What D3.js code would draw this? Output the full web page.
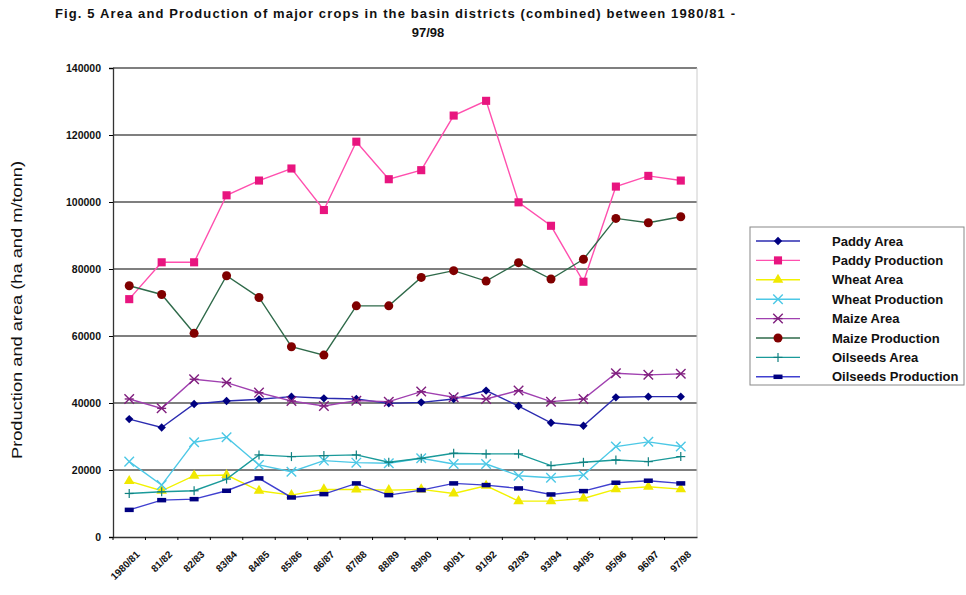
<!DOCTYPE html>
<html>
<head>
<meta charset="utf-8">
<script src="https://cdn.jsdelivr.net/npm/d3@7"></script>
<style>
  body { margin: 0; background: #fff; }
  svg { font-family: "Liberation Sans", Arial, sans-serif; }
</style>
</head>
<body>
<div id="chart"></div>
<script>
// categories (crop years)
var years = ["1980/81", "81/82", "82/83", "83/84", "84/85", "85/86", "86/87", "87/88", "88/89",
    "89/90", "90/91", "91/92", "92/93", "93/94", "94/95", "95/96", "96/97", "97/98"];

var paddyArea = [35200, 32700, 39700, 40600, 41100, 41900, 41400, 41200, 39900,
    40200, 41200, 43700, 39100, 34100, 33200, 41700, 41900, 41900];
var paddyProd = [71000, 82000, 82000, 102000, 106400, 110000, 97600, 118000, 106800,
    109500, 125800, 130200, 99900, 92900, 76200, 104600, 107800, 106400];
var wheatArea = [16700, 13800, 18300, 18500, 13800, 12500, 14200, 14200, 14000,
    14200, 13000, 15300, 10700, 10700, 11500, 14300, 15000, 14300];
var wheatProd = [22500, 15500, 28300, 29800, 21500, 19500, 22800, 22200, 22000,
    23500, 21800, 21800, 18300, 17700, 18500, 27000, 28400, 27000];
var maizeArea = [41200, 38400, 47100, 46100, 43100, 40600, 39100, 40700, 40400,
    43400, 41700, 41200, 43700, 40400, 41200, 48900, 48400, 48700];
var maizeProd = [75000, 72400, 60800, 78000, 71500, 56800, 54300, 69000, 69000,
    77500, 79500, 76400, 81900, 77000, 82900, 95100, 93800, 95600];
var oilArea = [13000, 13500, 13800, 17300, 24500, 24000, 24300, 24500, 22300,
    23500, 25000, 24800, 24800, 21300, 22300, 23000, 22500, 24000];
var oilProd = [8100, 11000, 11300, 13800, 17500, 11800, 12800, 16000, 12500,
    14000, 16000, 15500, 14500, 12700, 13700, 16200, 16800, 16000];

var yTicks = [0, 20000, 40000, 60000, 80000, 100000, 120000, 140000];

var series = [
    {name: "Paddy Area", values: paddyArea, line: "#2b2bb0", fill: "#000080", shape: "diamond"},
    {name: "Paddy Production", values: paddyProd, line: "#ff4fae", fill: "#e8157f", shape: "square"},
    {name: "Wheat Area", values: wheatArea, line: "#f2f200", fill: "#f0e800", shape: "triangle"},
    {name: "Wheat Production", values: wheatProd, line: "#4cc8e6", fill: "#4cc8e6", shape: "x"},
    {name: "Maize Area", values: maizeArea, line: "#a040b0", fill: "#80207f", shape: "star"},
    {name: "Maize Production", values: maizeProd, line: "#2f6a4a", fill: "#800000", shape: "circle"},
    {name: "Oilseeds Area", values: oilArea, line: "#1a9a9a", fill: "#108080", shape: "plus"},
    {name: "Oilseeds Production", values: oilProd, line: "#4040d0", fill: "#000080", shape: "dash"}
];

var width = 966, height = 595;
var margin = {top: 68, right: 269, bottom: 58, left: 113};

var svg = d3.select("#chart").append("svg")
    .attr("width", width)
    .attr("height", height);

var x = d3.scaleBand()
    .domain(years)
    .range([margin.left, width - margin.right]);

var y = d3.scaleLinear()
    .domain([0, 140000])
    .range([height - margin.bottom, margin.top]);

// title
var title = svg.append("text")
    .attr("text-anchor", "middle")
    .attr("font-size", 13)
    .attr("font-weight", "bold")
    .attr("fill", "#111");
title.append("tspan").attr("x", 395).attr("y", 18)
    .attr("textLength", 680).attr("lengthAdjust", "spacing")
    .text("Fig. 5 Area and Production of major crops in the basin districts (combined) between 1980/81 -");
title.append("tspan").attr("x", 428).attr("y", 37).text("97/98");

// gridlines
svg.append("g").selectAll("line")
    .data(yTicks.slice(1))
    .enter().append("line")
    .attr("x1", margin.left).attr("x2", width - margin.right)
    .attr("y1", function(d) { return y(d); })
    .attr("y2", function(d) { return y(d); })
    .attr("stroke", "#555")
    .attr("stroke-width", 1.3);

// right border of plot area
svg.append("line")
    .attr("x1", width - margin.right).attr("x2", width - margin.right)
    .attr("y1", margin.top).attr("y2", height - margin.bottom)
    .attr("stroke", "#ccc");

// axes
var yAxis = svg.append("g")
    .attr("transform", "translate(" + margin.left + ",0)")
    .call(d3.axisLeft(y).tickValues(yTicks).tickSize(4).tickFormat(d3.format("d")));
yAxis.selectAll("text").attr("font-size", 10.5).attr("font-weight", "bold").attr("fill", "#111")
    .attr("x", -12);
yAxis.select(".domain").attr("stroke", "#333").attr("stroke-width", 1.3);

var xAxis = svg.append("g")
    .attr("transform", "translate(0," + (height - margin.bottom) + ")")
    .call(d3.axisBottom(x).tickSize(3).tickSizeOuter(0));
xAxis.selectAll(".tick line").attr("transform", "translate(" + (-x.bandwidth() / 2) + ",0)");
xAxis.selectAll("text")
    .attr("font-size", 10)
    .attr("font-weight", "bold")
    .attr("fill", "#111")
    .attr("text-anchor", "end")
    .attr("dx", "-0.2em")
    .attr("dy", "0.9em")
    .attr("transform", "translate(2,6) rotate(-45)");
xAxis.select(".domain").attr("stroke", "#333").attr("stroke-width", 1.3);

// y axis label
svg.append("text")
    .attr("transform", "translate(22,310) rotate(-90)")
    .attr("text-anchor", "middle")
    .attr("font-size", 14)
    .attr("textLength", 298).attr("lengthAdjust", "spacingAndGlyphs")
    .attr("fill", "#111")
    .text("Production and area (ha and m/tonn)");

// marker drawing
function drawMarker(g, s, size) {
    var r = size;
    if (s.shape === "diamond") {
        g.append("path").attr("d", d3.symbol(d3.symbolDiamond2, r * r * 2.2)).attr("fill", s.fill);
    } else if (s.shape === "square") {
        g.append("rect").attr("x", -r * 0.9).attr("y", -r * 0.9).attr("width", r * 1.8).attr("height", r * 1.8)
            .attr("fill", s.fill);
    } else if (s.shape === "triangle") {
        g.append("path").attr("d", d3.symbol(d3.symbolTriangle, r * r * 2.4)).attr("fill", s.fill);
    } else if (s.shape === "circle") {
        g.append("circle").attr("r", r).attr("fill", s.fill);
    } else if (s.shape === "x") {
        g.append("path").attr("d", d3.symbol(d3.symbolX, r * r * 3)).attr("fill", "none")
            .attr("stroke", s.fill).attr("stroke-width", 1.4);
    } else if (s.shape === "star") {
        g.append("path").attr("d", d3.symbol(d3.symbolX, r * r * 3)).attr("fill", "none")
            .attr("stroke", s.fill).attr("stroke-width", 1.4);
        g.append("line").attr("x1", -r).attr("x2", r).attr("stroke", s.fill).attr("stroke-width", 1.4);
    } else if (s.shape === "plus") {
        g.append("line").attr("y1", -r).attr("y2", r).attr("stroke", s.fill).attr("stroke-width", 1.2);
        g.append("line").attr("x1", -r).attr("x2", r).attr("stroke", s.fill).attr("stroke-width", 1.2);
    } else if (s.shape === "dash") {
        g.append("rect").attr("x", -r).attr("y", -r * 0.5).attr("width", r * 2).attr("height", r)
            .attr("fill", s.fill);
    }
}

var line = d3.line()
    .x(function(d, i) { return x(years[i]) + x.bandwidth() / 2; })
    .y(function(d) { return y(d); });

series.forEach(function(s) {
    var g = svg.append("g").attr("class", "series");
    g.append("path")
        .datum(s.values)
        .attr("d", line)
        .attr("fill", "none")
        .attr("stroke", s.line)
        .attr("stroke-width", 1.4);
    g.selectAll(".pt")
        .data(s.values)
        .enter().append("g")
        .attr("class", "pt")
        .attr("transform", function(d, i) {
            return "translate(" + (x(years[i]) + x.bandwidth() / 2) + "," + y(d) + ")";
        })
        .each(function() { drawMarker(d3.select(this), s, 4.5); });
});

// legend
var lx = 750, ly = 227, lw = 214, lh = 158;
var legend = svg.append("g");
legend.append("rect")
    .attr("x", lx).attr("y", ly).attr("width", lw).attr("height", lh)
    .attr("fill", "#fff").attr("stroke", "#888");

var item = legend.selectAll(".item")
    .data(series)
    .enter().append("g")
    .attr("class", "item")
    .attr("transform", function(d, i) { return "translate(" + lx + "," + (ly + 14 + i * 19.4) + ")"; });

item.append("line")
    .attr("x1", 6).attr("x2", 50)
    .attr("stroke", function(d) { return d.line; })
    .attr("stroke-width", 1.4);
item.append("g")
    .attr("transform", "translate(28,0)")
    .each(function(d) { drawMarker(d3.select(this), d, 4.5); });
item.append("text")
    .attr("x", 82)
    .attr("dy", "0.35em")
    .attr("font-size", 13)
    .attr("font-weight", "bold")
    .attr("fill", "#111")
    .text(function(d) { return d.name; });
</script>
</body>
</html>
